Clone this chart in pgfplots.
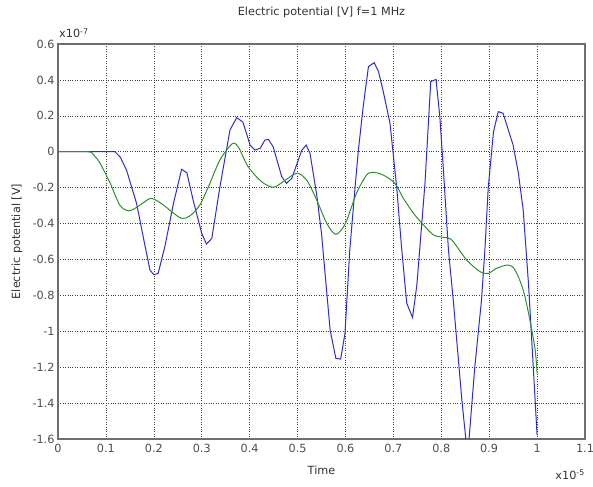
\documentclass[border=0pt]{standalone}
\usepackage{fontspec}
\setmainfont{DejaVu Sans}
\usepackage{pgfplots}
\pgfplotsset{compat=1.18}
\definecolor{bluel}{RGB}{45,45,205}
\definecolor{greenl}{RGB}{45,145,45}
\definecolor{frame}{RGB}{110,110,110}
\begin{document}
\begin{tikzpicture}
\useasboundingbox (-58bp,-48bp) rectangle (535bp,439bp);
\begin{axis}[scale only axis, width=527bp, height=395bp,
  xmin=0, xmax=1.1, ymin=-1.6, ymax=0.6,
  xtick={0,0.1,...,1.1}, ytick={-1.6,-1.4,...,0.6},
  xticklabels={0,0.1,0.2,0.3,0.4,0.5,0.6,0.7,0.8,0.9,1,1.1},
  yticklabels={-1.6,-1.4,-1.2,-1,-0.8,-0.6,-0.4,-0.2,0,0.2,0.4,0.6},
  grid=major, major grid style={dotted, black!75, line width=0.6pt},
  major tick length=0pt,
  axis line style={frame, line width=1.1pt},
  tick label style={font=\fontsize{11.3}{13}\selectfont, text=black!70},
  xticklabel style={yshift=-2bp},
  yticklabel style={xshift=0bp},
  /pgf/number format/assume math mode=true,
  clip=true]
 \addplot[bluel, line width=1pt] coordinates {
  (0,0) (0.10,0) (0.119,0) (0.13,-0.03) (0.143,-0.102) (0.164,-0.288) (0.182,-0.529)
  (0.192,-0.659) (0.200,-0.685) (0.209,-0.678) (0.223,-0.529) (0.241,-0.288) (0.258,-0.098)
  (0.269,-0.117) (0.282,-0.269) (0.300,-0.455) (0.310,-0.514) (0.321,-0.483) (0.338,-0.195)
  (0.359,0.121) (0.373,0.19) (0.386,0.165) (0.401,0.037) (0.411,0.009) (0.422,0.019)
  (0.432,0.065) (0.439,0.069) (0.449,0.028) (0.467,-0.139) (0.477,-0.176) (0.488,-0.148)
  (0.509,0.009) (0.518,0.037) (0.526,-0.009) (0.540,-0.24) (0.550,-0.455) (0.568,-0.993)
  (0.580,-1.151) (0.590,-1.155) (0.599,-1.012) (0.609,-0.548) (0.620,-0.2) (0.627,0.009)
  (0.637,0.251) (0.648,0.474) (0.660,0.496) (0.669,0.446) (0.679,0.334) (0.693,0.158)
  (0.707,-0.2) (0.717,-0.53) (0.728,-0.845) (0.740,-0.923) (0.749,-0.743) (0.756,-0.51)
  (0.766,-0.176) (0.778,0.39) (0.789,0.403) (0.797,0.195) (0.804,-0.084) (0.815,-0.548)
  (0.825,-0.826) (0.843,-1.383) (0.855,-1.7) (0.870,-1.198) (0.884,-0.826) (0.891,-0.548)
  (0.898,-0.2) (0.909,0.111) (0.919,0.223) (0.929,0.214) (0.940,0.121) (0.950,0.037)
  (0.961,-0.12) (0.971,-0.325) (0.982,-0.733) (0.992,-1.198) (1.0,-1.58)};
 \addplot[greenl, line width=1pt, smooth] coordinates {
  (0,0) (0.063,0) (0.075,-0.02) (0.088,-0.065) (0.109,-0.176) (0.129,-0.297) (0.147,-0.329)
  (0.164,-0.31) (0.18,-0.28) (0.196,-0.26) (0.220,-0.297) (0.24,-0.34) (0.258,-0.371)
  (0.275,-0.358) (0.296,-0.297) (0.317,-0.176) (0.338,-0.046) (0.363,0.043) (0.376,0.028)
  (0.397,-0.084) (0.425,-0.167) (0.449,-0.198) (0.470,-0.167) (0.498,-0.12) (0.519,-0.158)
  (0.540,-0.269) (0.561,-0.399) (0.580,-0.46) (0.600,-0.399) (0.623,-0.232) (0.644,-0.13)
  (0.658,-0.115) (0.679,-0.13) (0.703,-0.176) (0.721,-0.26) (0.742,-0.343) (0.763,-0.408)
  (0.784,-0.464) (0.805,-0.477) (0.822,-0.492) (0.853,-0.603) (0.881,-0.668) (0.898,-0.678)
  (0.915,-0.65) (0.940,-0.631) (0.954,-0.659) (0.971,-0.77) (0.985,-0.938) (0.996,-1.105)
  (1.0,-1.235)};
\end{axis}
\begin{scope}[font=\fontsize{11.3}{13}\selectfont, text=black!80]
\node at (263.5bp,427bp) {Electric potential [V] f=1 MHz};
\node[rotate=90] at (-41bp,197.5bp) {Electric potential [V]};
\node at (263.5bp,-31bp) {Time};
\node[anchor=base west, inner sep=0pt] at (1bp,401bp) {x10\textsuperscript{-7}};
\node[anchor=base east, inner sep=0pt] at (527bp,-40bp) {x10\textsuperscript{-5}};
\end{scope}
\end{tikzpicture}
\end{document}
